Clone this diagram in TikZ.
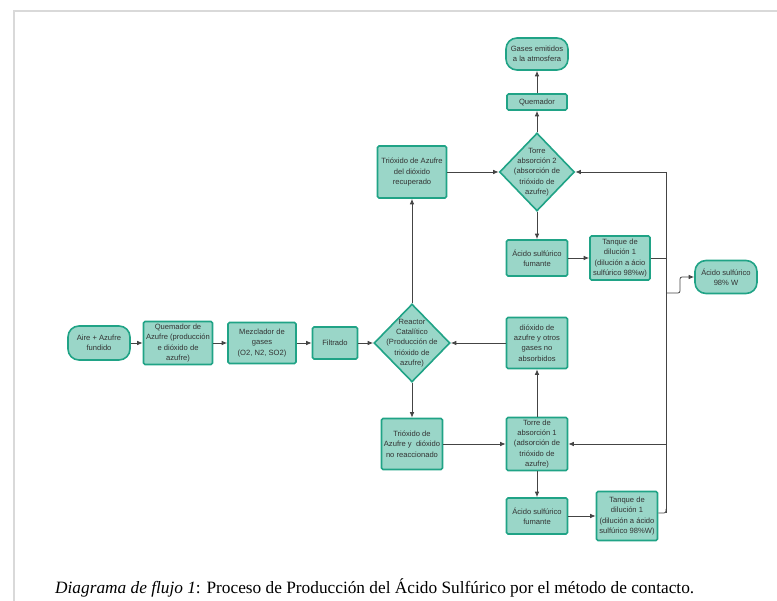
\documentclass[tikz,border=0pt]{standalone}
\usepackage{fontspec}
\setmainfont{Liberation Serif}
\setsansfont{Liberation Sans}
\usetikzlibrary{shapes.geometric,arrows.meta,calc}
\definecolor{fillc}{HTML}{9AD6C8}
\definecolor{edgec}{HTML}{20A386}
\definecolor{linec}{HTML}{444444}
\definecolor{txtc}{HTML}{333333}
\definecolor{framec}{HTML}{D9D9D9}
\begin{document}
\begin{tikzpicture}[x=1pt,y=-1pt,
  base/.style={draw=edgec,fill=fillc,line width=1.6pt,text=txtc,
    font=\sffamily\fontsize{7.6}{10.3}\selectfont,align=center,inner sep=1pt},
  boxn/.style={base,rectangle,rounded corners=1.5pt},
  pill/.style={base,rectangle,rounded corners=11pt},
  diam/.style={base,diamond,inner sep=0pt},
  dtext/.style={text=txtc,font=\sffamily\fontsize{7.6}{10.3}\selectfont,align=center},
  conn/.style={draw=linec,line width=0.8pt},
  arr/.style={conn,-{Latex[length=5.5pt,width=4.5pt]}}]
\useasboundingbox (0,0) rectangle (777,601);
\draw[framec,line width=2pt] (14,601) -- (14,11) -- (777,11);

% nodes
\node[pill,minimum width=62pt,minimum height=34pt] (aire) at (99,343) {Aire + Azufre\\fundido};
\node[boxn,minimum width=69pt,minimum height=43pt] (qaz) at (178,343) {Quemador de\\Azufre (producción\\e dióxido de\\azufre)};
\node[boxn,minimum width=68pt,minimum height=41pt] (mez) at (262,343) {Mezclador de\\gases\\(O2, N2, SO2)};
\node[boxn,minimum width=45pt,minimum height=32pt] (fil) at (335,343) {Filtrado};
\node[diam,minimum width=76pt,minimum height=78pt,
  label={[dtext]center:Reactor\\Catalítico\\(Producción de\\trióxido de\\azufre)}] (reac) at (412,343) {};
\node[boxn,minimum width=61pt,minimum height=51pt] (diox) at (537,343) {dióxido de\\azufre y otros\\gases no\\absorbidos};
\node[boxn,minimum width=69pt,minimum height=52pt] (trec) at (412,172) {Trióxido de Azufre\\del dióxido\\recuperado};
\node[diam,minimum width=75pt,minimum height=78pt,
  label={[dtext]center:Torre\\absorción 2\\(absorción de\\trióxido de\\azufre)}] (t2) at (537,172) {};
\node[boxn,minimum width=60pt,minimum height=16pt] (quem) at (537,102) {Quemador};
\node[pill,minimum width=62pt,minimum height=32pt] (gas) at (537,54) {Gases emitidos\\a la atmosfera};
\node[boxn,minimum width=61pt,minimum height=36pt] (af1) at (537,258) {Ácido sulfúrico\\fumante};
\node[boxn,minimum width=60pt,minimum height=44pt] (tk1) at (620,258) {Tanque de\\dilución 1\\(dilución a ácio\\sulfúrico 98\%w)};
\node[pill,minimum width=62pt,minimum height=33pt] (acid) at (726,277) {Ácido sulfúrico\\98\% W};
\node[boxn,minimum width=61pt,minimum height=51pt] (tnr) at (412,444) {Trióxido de\\Azufre y\ \ dióxido\\no reaccionado};
\node[boxn,minimum width=61pt,minimum height=53pt] (t1) at (537,444) {Torre de\\absorción 1\\(adsorción de\\trióxido de\\azufre)};
\node[boxn,minimum width=61pt,minimum height=36pt] (af2) at (537,516) {Ácido sulfúrico\\fumante};
\node[boxn,minimum width=61pt,minimum height=49pt] (tk2) at (627,516) {Tanque de\\dilución 1\\(dilución a ácido\\sulfúrico 98\%W)};

% bus coordinates
\coordinate (btop) at (666,172);
\coordinate (bt1) at (666,444);
\coordinate (bbot) at (666,513);
\coordinate (bac) at (666,293);
\coordinate (bac2) at (680,293);
\coordinate (bac3) at (680,277);

% connectors
\draw[arr] (aire) -- (qaz);
\draw[arr] (qaz) -- (mez);
\draw[arr] (mez) -- (fil);
\draw[arr] (fil) -- (reac);
\draw[arr] (reac) -- (trec);
\draw[arr] (reac) -- (tnr);
\draw[arr] (trec) -- (t2);
\draw[arr] (t2) -- (quem);
\draw[arr] (quem) -- (gas);
\draw[arr] (t2) -- (af1);
\draw[arr] (af1) -- (tk1);
\draw[arr] (tnr) -- (t1);
\draw[arr] (t1) -- (diox);
\draw[arr] (diox) -- (reac);
\draw[arr] (t1) -- (af2);
\draw[arr] (af2) -- (tk2);
\draw[conn] (btop) -- (bbot);
\draw[arr] (btop) -- (t2.east);
\draw[arr] (bt1) -- (t1.east);
\draw[conn] (tk1.east) -- (tk1.east -| btop);
\draw[conn,rounded corners=2pt] (tk2.east |- bbot) -- (bbot) -- ++(0,-4);
\draw[arr,rounded corners=2pt] (bac) -- (bac2) -- (bac3) -- (acid.west);

% caption
\node[anchor=base west,inner sep=0pt,font=\fontsize{17.3}{20}\selectfont,text=black] (cap) at (55,593)
  {\textit{Diagrama de flujo 1}: Proceso de Producción del Ácido Sulfúrico por el método de contacto.};
\end{tikzpicture}
\end{document}
